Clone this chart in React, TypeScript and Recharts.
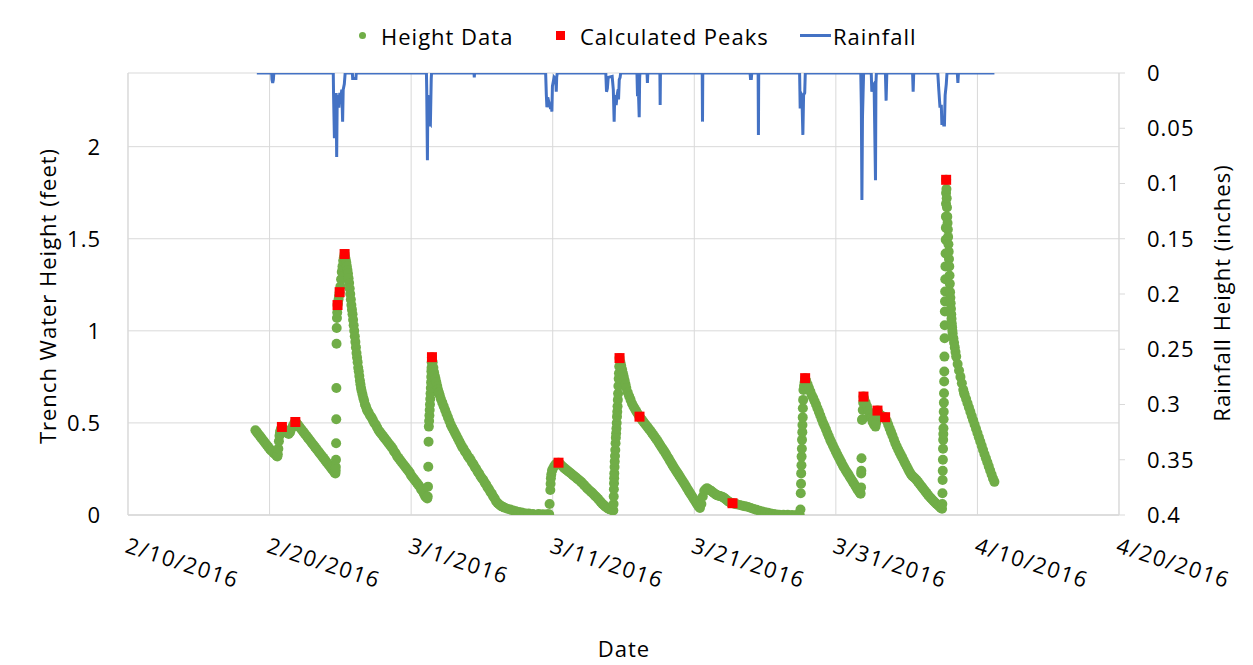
import React from 'react';
import { ComposedChart, Scatter, Line, XAxis, YAxis, CartesianGrid } from 'recharts';

// Day offsets are counted from 2/10/2016 (day 0).
const DATE_TICKS = [0, 10, 20, 30, 40, 50, 60, 70];
const HEIGHT_TICKS = [0, 0.5, 1, 1.5, 2];
const RAIN_TICKS = [0, 0.05, 0.1, 0.15, 0.2, 0.25, 0.3, 0.35, 0.4];

// Trench water height readings [day, feet]
const eventFeb19: [number, number][] = [
  [9.0, 0.46], [9.1, 0.45], [9.2, 0.44], [9.3, 0.43], [9.4, 0.42], [9.5, 0.41], [9.6, 0.4], [9.7, 0.39],
  [9.8, 0.38], [9.9, 0.37], [10.0, 0.36], [10.1, 0.35], [10.2, 0.345], [10.3, 0.335], [10.4, 0.33], [10.5, 0.32],
  [10.55, 0.318], [10.58, 0.33], [10.62, 0.36], [10.66, 0.4], [10.7, 0.43], [10.74, 0.45], [10.78, 0.46], [10.82, 0.47],
  [10.87, 0.478], [10.95, 0.47], [11.05, 0.46], [11.15, 0.45], [11.25, 0.445], [11.35, 0.44], [11.45, 0.45], [11.55, 0.47],
  [11.65, 0.485], [11.75, 0.5], [11.82, 0.505], [11.9, 0.5], [12.0, 0.49], [12.1, 0.48], [12.2, 0.47], [12.3, 0.46],
  [12.4, 0.45], [12.5, 0.44], [12.6, 0.43], [12.7, 0.42], [12.8, 0.41], [12.9, 0.4], [13.0, 0.39], [13.1, 0.38],
  [13.2, 0.37], [13.3, 0.36], [13.4, 0.35], [13.5, 0.34], [13.6, 0.33], [13.7, 0.32], [13.8, 0.31], [13.9, 0.3],
  [14.0, 0.29], [14.1, 0.28], [14.2, 0.27], [14.3, 0.26], [14.4, 0.25], [14.5, 0.24], [14.6, 0.23], [14.65, 0.225],
];

const eventFeb24: [number, number][] = [
  [14.67, 0.24], [14.68, 0.26], [14.69, 0.3], [14.7, 0.39], [14.71, 0.52], [14.72, 0.69], [14.73, 0.93], [14.74, 1.015],
  [14.76, 1.07], [14.78, 1.1], [14.8, 1.14], [14.83, 1.15], [14.87, 1.17], [14.91, 1.19], [14.95, 1.21], [15.0, 1.24],
  [15.05, 1.28], [15.1, 1.32], [15.15, 1.35], [15.2, 1.38], [15.25, 1.4], [15.3, 1.417], [15.34, 1.4], [15.38, 1.385],
  [15.42, 1.37], [15.46, 1.35], [15.5, 1.33], [15.54, 1.31], [15.58, 1.285], [15.62, 1.26], [15.66, 1.23], [15.7, 1.2],
  [15.74, 1.17], [15.78, 1.14], [15.82, 1.115], [15.86, 1.09], [15.9, 1.06], [15.94, 1.03], [15.98, 1.0], [16.02, 0.97],
  [16.06, 0.94], [16.1, 0.91], [16.14, 0.88], [16.18, 0.855], [16.22, 0.83], [16.26, 0.8], [16.3, 0.78], [16.34, 0.755],
  [16.38, 0.73], [16.42, 0.71], [16.46, 0.69], [16.5, 0.675], [16.56, 0.655], [16.62, 0.635], [16.68, 0.62], [16.74, 0.6],
  [16.8, 0.59], [16.86, 0.575], [16.92, 0.565], [17.0, 0.555], [17.1, 0.54], [17.2, 0.53], [17.3, 0.515], [17.4, 0.5],
  [17.5, 0.49], [17.6, 0.475], [17.7, 0.46], [17.8, 0.45], [17.9, 0.44], [18.0, 0.43], [18.1, 0.42], [18.2, 0.41],
  [18.3, 0.4], [18.4, 0.39], [18.5, 0.38], [18.6, 0.37], [18.7, 0.36], [18.8, 0.345], [18.9, 0.335], [19.0, 0.32],
  [19.1, 0.31], [19.2, 0.3], [19.3, 0.29], [19.4, 0.28], [19.5, 0.27], [19.6, 0.26], [19.7, 0.25], [19.8, 0.24],
  [19.9, 0.23], [20.0, 0.215], [20.1, 0.205], [20.2, 0.195], [20.3, 0.185], [20.4, 0.175], [20.5, 0.165], [20.6, 0.155],
  [20.7, 0.14], [20.8, 0.13], [20.9, 0.115], [21.0, 0.1], [21.08, 0.095], [21.14, 0.09],
];

const eventMar1: [number, number][] = [
  [21.17, 0.1], [21.19, 0.154], [21.21, 0.262], [21.23, 0.398], [21.25, 0.48], [21.27, 0.51], [21.29, 0.54], [21.31, 0.57],
  [21.33, 0.6], [21.35, 0.63], [21.37, 0.66], [21.39, 0.69], [21.41, 0.72], [21.42, 0.75], [21.43, 0.78], [21.44, 0.8],
  [21.45, 0.83], [21.47, 0.857], [21.52, 0.83], [21.57, 0.8], [21.62, 0.775], [21.67, 0.755], [21.72, 0.74], [21.78, 0.72],
  [21.84, 0.7], [21.9, 0.68], [21.96, 0.665], [22.02, 0.65], [22.1, 0.63], [22.2, 0.61], [22.3, 0.59], [22.4, 0.57],
  [22.5, 0.55], [22.6, 0.53], [22.7, 0.51], [22.8, 0.49], [22.9, 0.475], [23.0, 0.46], [23.1, 0.445], [23.2, 0.43],
  [23.3, 0.415], [23.4, 0.4], [23.5, 0.385], [23.6, 0.37], [23.7, 0.36], [23.8, 0.345], [23.9, 0.335], [24.0, 0.32],
  [24.1, 0.31], [24.2, 0.3], [24.3, 0.285], [24.4, 0.275], [24.5, 0.26], [24.6, 0.25], [24.7, 0.235], [24.8, 0.225],
  [24.9, 0.21], [25.0, 0.2], [25.1, 0.19], [25.2, 0.175], [25.3, 0.165], [25.4, 0.15], [25.5, 0.14], [25.6, 0.125],
  [25.7, 0.115], [25.8, 0.1], [25.9, 0.09], [26.0, 0.075], [26.1, 0.065], [26.2, 0.058], [26.3, 0.052], [26.4, 0.047],
  [26.5, 0.043], [26.6, 0.04], [26.8, 0.034], [27.0, 0.03], [27.2, 0.025], [27.4, 0.02], [27.6, 0.016], [27.8, 0.013],
  [28.0, 0.01], [28.3, 0.008], [28.6, 0.006], [29.0, 0.005], [29.3, 0.004], [29.6, 0.004], [29.75, 0.004],
];

const eventMar10: [number, number][] = [
  [29.78, 0.06], [29.83, 0.136], [29.85, 0.17], [29.87, 0.2], [29.9, 0.22], [29.95, 0.24], [30.0, 0.25], [30.1, 0.265],
  [30.2, 0.275], [30.3, 0.28], [30.41, 0.284], [30.5, 0.278], [30.6, 0.27], [30.7, 0.263], [30.8, 0.256], [30.9, 0.249],
  [31.0, 0.243], [31.1, 0.237], [31.2, 0.231], [31.3, 0.225], [31.4, 0.219], [31.5, 0.212], [31.6, 0.206], [31.7, 0.199],
  [31.8, 0.193], [31.9, 0.187], [32.0, 0.18], [32.1, 0.172], [32.2, 0.164], [32.3, 0.156], [32.4, 0.148], [32.5, 0.14],
  [32.6, 0.133], [32.7, 0.126], [32.8, 0.119], [32.9, 0.111], [33.0, 0.103], [33.1, 0.096], [33.2, 0.088], [33.3, 0.079],
  [33.4, 0.07], [33.5, 0.061], [33.6, 0.054], [33.7, 0.047], [33.8, 0.041], [33.9, 0.036], [34.0, 0.032], [34.1, 0.029],
  [34.2, 0.027], [34.28, 0.025],
];

const eventMar14: [number, number][] = [
  [34.3, 0.06], [34.31, 0.1], [34.32, 0.14], [34.33, 0.172], [34.34, 0.2], [34.35, 0.226], [34.37, 0.26], [34.38, 0.29],
  [34.4, 0.32], [34.42, 0.353], [34.44, 0.39], [34.46, 0.42], [34.48, 0.444], [34.5, 0.47], [34.52, 0.5], [34.54, 0.534],
  [34.56, 0.56], [34.58, 0.59], [34.6, 0.625], [34.62, 0.66], [34.64, 0.7], [34.66, 0.74], [34.68, 0.77], [34.7, 0.806],
  [34.72, 0.852], [34.78, 0.83], [34.84, 0.81], [34.9, 0.79], [34.96, 0.77], [35.02, 0.75], [35.08, 0.73], [35.14, 0.71],
  [35.2, 0.69], [35.3, 0.665], [35.4, 0.645], [35.5, 0.625], [35.6, 0.605], [35.7, 0.59], [35.8, 0.577], [35.9, 0.564],
  [36.0, 0.551], [36.1, 0.538], [36.2, 0.527], [36.3, 0.517], [36.4, 0.507], [36.5, 0.497], [36.6, 0.487], [36.7, 0.477],
  [36.8, 0.467], [36.9, 0.457], [37.0, 0.447], [37.1, 0.436], [37.2, 0.425], [37.3, 0.414], [37.4, 0.403], [37.5, 0.391],
  [37.6, 0.379], [37.7, 0.367], [37.8, 0.355], [37.9, 0.343], [38.0, 0.331], [38.1, 0.318], [38.2, 0.305], [38.3, 0.292],
  [38.4, 0.279], [38.5, 0.266], [38.6, 0.254], [38.7, 0.242], [38.8, 0.23], [38.9, 0.218], [39.0, 0.206], [39.1, 0.194],
  [39.2, 0.182], [39.3, 0.17], [39.4, 0.157], [39.5, 0.144], [39.6, 0.131], [39.7, 0.119], [39.8, 0.107], [39.9, 0.095],
  [40.0, 0.083], [40.1, 0.071], [40.2, 0.059], [40.3, 0.047], [40.4, 0.038],
];

const eventMar20: [number, number][] = [
  [40.5, 0.06], [40.6, 0.1], [40.7, 0.13], [40.8, 0.14], [40.9, 0.145], [41.0, 0.14], [41.1, 0.135], [41.2, 0.13],
  [41.3, 0.124], [41.4, 0.118], [41.5, 0.112], [41.6, 0.108], [41.7, 0.105], [41.8, 0.103], [41.9, 0.1], [42.0, 0.098],
  [42.1, 0.093], [42.2, 0.087], [42.3, 0.08], [42.4, 0.074], [42.5, 0.069], [42.6, 0.066], [42.7, 0.064], [42.8, 0.062],
  [42.9, 0.06], [43.0, 0.058], [43.2, 0.054], [43.4, 0.05], [43.6, 0.047], [43.8, 0.043], [44.0, 0.038], [44.2, 0.033],
  [44.4, 0.028], [44.6, 0.023], [44.8, 0.019], [45.0, 0.015], [45.2, 0.012], [45.4, 0.008], [45.6, 0.005], [45.8, 0.003],
  [46.0, 0.002], [46.3, 0.001], [46.6, 0.001], [46.9, 0.0], [47.2, 0.0], [47.45, 0.0],
];

const eventMar27: [number, number][] = [
  [47.5, 0.03], [47.52, 0.118], [47.54, 0.17], [47.55, 0.226], [47.57, 0.27], [47.58, 0.317], [47.6, 0.36], [47.61, 0.408],
  [47.63, 0.45], [47.64, 0.489], [47.66, 0.53], [47.67, 0.58], [47.69, 0.625], [47.71, 0.679], [47.75, 0.7], [47.79, 0.72],
  [47.83, 0.743], [47.9, 0.73], [48.0, 0.71], [48.1, 0.69], [48.2, 0.67], [48.3, 0.65], [48.4, 0.635], [48.5, 0.618],
  [48.6, 0.6], [48.7, 0.58], [48.8, 0.56], [48.9, 0.54], [49.0, 0.52], [49.1, 0.5], [49.2, 0.483], [49.3, 0.465],
  [49.4, 0.445], [49.5, 0.427], [49.6, 0.408], [49.7, 0.392], [49.8, 0.376], [49.9, 0.36], [50.0, 0.344], [50.1, 0.328],
  [50.2, 0.313], [50.3, 0.298], [50.4, 0.283], [50.5, 0.268], [50.6, 0.255], [50.7, 0.242], [50.8, 0.23], [50.9, 0.218],
  [51.0, 0.205], [51.1, 0.193], [51.2, 0.18], [51.3, 0.168], [51.4, 0.155], [51.5, 0.142], [51.6, 0.13], [51.7, 0.12],
  [51.75, 0.116],
];

const eventApr1: [number, number][] = [
  [51.78, 0.15], [51.79, 0.226], [51.8, 0.24], [51.81, 0.308], [51.85, 0.516], [51.87, 0.52], [51.9, 0.57], [51.93, 0.61],
  [51.95, 0.643], [52.0, 0.63], [52.1, 0.61], [52.2, 0.59], [52.3, 0.565], [52.4, 0.545], [52.5, 0.525], [52.6, 0.505],
  [52.7, 0.49], [52.8, 0.48], [52.85, 0.5], [52.9, 0.54], [52.94, 0.567], [53.0, 0.555], [53.1, 0.545], [53.2, 0.54],
  [53.3, 0.535], [53.4, 0.532], [53.48, 0.531], [53.6, 0.51], [53.7, 0.49], [53.8, 0.47], [53.9, 0.45], [54.0, 0.43],
  [54.1, 0.41], [54.2, 0.39], [54.3, 0.372], [54.4, 0.356], [54.5, 0.34], [54.6, 0.325], [54.7, 0.31], [54.8, 0.295],
  [54.9, 0.28], [55.0, 0.265], [55.1, 0.25], [55.2, 0.235], [55.3, 0.222], [55.4, 0.212], [55.5, 0.205], [55.6, 0.198],
  [55.7, 0.19], [55.8, 0.18], [55.9, 0.17], [56.0, 0.16], [56.1, 0.15], [56.2, 0.14], [56.3, 0.13], [56.4, 0.12],
  [56.5, 0.11], [56.6, 0.1], [56.7, 0.092], [56.8, 0.084], [56.9, 0.076], [57.0, 0.068], [57.1, 0.061], [57.2, 0.054],
  [57.3, 0.047], [57.4, 0.04], [57.5, 0.034],
];

const eventApr7: [number, number][] = [
  [57.52, 0.06], [57.53, 0.118], [57.54, 0.19], [57.55, 0.24], [57.56, 0.3], [57.57, 0.36], [57.58, 0.408], [57.59, 0.44],
  [57.6, 0.471], [57.61, 0.52], [57.62, 0.561], [57.63, 0.61], [57.64, 0.661], [57.65, 0.725], [57.66, 0.779], [57.67, 0.86],
  [57.68, 0.96], [57.69, 1.03], [57.7, 1.105], [57.71, 1.16], [57.72, 1.214], [57.73, 1.28], [57.74, 1.35], [57.75, 1.42],
  [57.76, 1.495], [57.77, 1.56], [57.775, 1.62], [57.78, 1.69], [57.785, 1.748], [57.79, 1.82], [57.81, 1.77], [57.83, 1.72],
  [57.85, 1.67], [57.87, 1.62], [57.89, 1.585], [57.91, 1.55], [57.93, 1.51], [57.95, 1.47], [57.97, 1.43], [57.99, 1.39],
  [58.01, 1.35], [58.03, 1.3], [58.05, 1.255], [58.07, 1.21], [58.09, 1.18], [58.11, 1.15], [58.13, 1.12], [58.15, 1.09],
  [58.17, 1.065], [58.19, 1.04], [58.21, 1.02], [58.23, 1.0], [58.25, 0.985], [58.3, 0.96], [58.35, 0.935], [58.4, 0.91],
  [58.45, 0.885], [58.5, 0.86], [58.6, 0.82], [58.7, 0.785], [58.8, 0.75], [58.9, 0.715], [59.0, 0.68], [59.06, 0.661],
  [59.1, 0.652], [59.2, 0.63], [59.3, 0.607], [59.4, 0.584], [59.5, 0.56], [59.6, 0.537], [59.7, 0.514], [59.8, 0.491],
  [59.9, 0.468], [60.0, 0.445], [60.1, 0.422], [60.2, 0.399], [60.3, 0.376], [60.4, 0.353], [60.5, 0.33], [60.6, 0.308],
  [60.7, 0.286], [60.8, 0.264], [60.9, 0.242], [61.0, 0.22], [61.1, 0.198], [61.2, 0.18],
];

// Peaks picked out of the height record [day, feet]
const calculatedPeaks: [number, number][] = [
  [10.87, 0.478], [11.82, 0.505], [14.8, 1.14], [14.95, 1.21], [15.3, 1.417], [21.47, 0.857], [30.41, 0.284],
  [34.72, 0.852], [36.13, 0.534], [42.7, 0.064], [47.83, 0.743], [51.95, 0.643], [52.94, 0.567], [53.48, 0.531],
  [57.79, 1.82],
];

// Rain gauge record [day, inches]
const rainfall: [number, number][] = [
  [9.1, 0], [10.15, 0], [10.17, 0.006], [10.22, 0.009], [10.27, 0.006], [10.3, 0],
  [14.5, 0], [14.52, 0.02], [14.58, 0.059], [14.6, 0.02], [14.66, 0.04], [14.7, 0.018], [14.74, 0.076], [14.78, 0.02],
  [14.84, 0.03], [14.9, 0.03], [14.96, 0.018], [15.02, 0.025], [15.1, 0.015], [15.16, 0.044], [15.2, 0.015], [15.28, 0.01], [15.34, 0],
  [15.85, 0], [15.87, 0.005], [16.1, 0.005], [16.12, 0],
  [21.08, 0], [21.1, 0.015], [21.15, 0.079], [21.18, 0.02], [21.24, 0.048], [21.3, 0.045], [21.36, 0.046], [21.42, 0.005], [21.44, 0],
  [24.44, 0], [24.46, 0.004], [24.48, 0],
  [29.5, 0], [29.55, 0.02], [29.59, 0.031], [29.65, 0.022], [29.72, 0.026], [29.8, 0.03], [29.9, 0.028], [29.94, 0.035],
  [29.98, 0.012], [30.1, 0.004], [30.22, 0.006], [30.25, 0.017], [30.28, 0.004], [30.32, 0],
  [33.75, 0], [33.8, 0.017], [33.86, 0.014], [33.92, 0.004], [34.2, 0.003], [34.28, 0.015], [34.34, 0.044], [34.38, 0.02],
  [34.44, 0.025], [34.48, 0.029], [34.55, 0.02], [34.62, 0.015], [34.65, 0.024], [34.7, 0.006], [34.76, 0.004], [34.8, 0],
  [35.95, 0], [35.99, 0.021], [36.05, 0.015], [36.11, 0.04], [36.14, 0.005], [36.16, 0],
  [36.66, 0], [36.69, 0.009], [36.72, 0],
  [37.57, 0], [37.59, 0.029], [37.61, 0],
  [40.56, 0], [40.58, 0.044], [40.6, 0],
  [43.94, 0], [43.97, 0.005], [44.03, 0.005], [44.06, 0],
  [44.51, 0], [44.53, 0.056], [44.55, 0],
  [47.44, 0], [47.48, 0.032], [47.52, 0.018], [47.6, 0.02], [47.67, 0.056], [47.72, 0.02], [47.8, 0.018], [47.84, 0],
  [51.76, 0], [51.8, 0.03], [51.84, 0.115], [51.88, 0.04], [51.92, 0.02], [51.96, 0],
  [52.5, 0], [52.54, 0.017], [52.6, 0.012], [52.7, 0.01], [52.8, 0.097], [52.83, 0.01], [52.86, 0],
  [53.5, 0], [53.55, 0.025], [53.6, 0],
  [55.42, 0], [55.46, 0.017], [55.5, 0],
  [57.2, 0], [57.27, 0.015], [57.35, 0.03], [57.45, 0.03], [57.49, 0.047], [57.55, 0.04], [57.62, 0.047], [57.67, 0.047],
  [57.72, 0.02], [57.8, 0.01], [57.85, 0],
  [58.58, 0], [58.62, 0.009], [58.66, 0],
  [61.2, 0],
];

const heightSeries = [
  ...eventFeb19, ...eventFeb24, ...eventMar1, ...eventMar10, ...eventMar14,
  ...eventMar20, ...eventMar27, ...eventApr1, ...eventApr7,
].map(([t, h]) => ({ t, h }));
const peakSeries = calculatedPeaks.map(([t, h]) => ({ t, h }));
const rainSeries = rainfall.map(([t, r]) => ({ t, r }));

const FONT = '"Open Sans", "Liberation Sans", sans-serif';
const FONT_SIZE = 22;
const SPACING = 1;
const GREEN = '#70AD47';
const RED = '#FF0000';
const BLUE = '#4472C4';
const GRID = '#D9D9D9';
const TEXT = '#000000';
const DAY0 = Date.UTC(2016, 1, 10);

const formatDate = (d: number) => {
  const dt = new Date(DAY0 + Math.round(d * 86400000));
  return `${dt.getUTCMonth() + 1}/${dt.getUTCDate()}/${dt.getUTCFullYear()}`;
};

const DateTick = (props: any) => {
  const { x, payload } = props;
  return (
    <g transform={`translate(${x - 4},545)`}>
      <text
        transform="rotate(18)"
        textAnchor="start"
        fontFamily={FONT}
        fontSize={FONT_SIZE}
        letterSpacing={1.5}
        fill={TEXT}
      >
        {formatDate(payload.value)}
      </text>
    </g>
  );
};

const LeftTick = (props: any) => (
  <text
    x={93}
    y={props.y}
    dy="0.36em"
    textAnchor="end"
    fontFamily={FONT}
    fontSize={FONT_SIZE}
    letterSpacing={SPACING}
    fill={TEXT}
  >
    {props.payload.value}
  </text>
);

const RightTick = (props: any) => (
  <text
    x={1139}
    y={props.y}
    dy="0.36em"
    textAnchor="start"
    fontFamily={FONT}
    fontSize={FONT_SIZE}
    letterSpacing={SPACING}
    fill={TEXT}
  >
    {props.payload.value}
  </text>
);

const HeightDot = (props: any) => <circle cx={props.cx} cy={props.cy} r={5} fill={GREEN} />;
const PeakMark = (props: any) => (
  <rect x={props.cx - 5} y={props.cy - 5} width={10} height={10} fill={RED} />
);

const AxisTitle = ({ x, y, angle, children }: { x: number; y: number; angle: number; children: string }) => (
  <text
    x={x}
    y={y}
    transform={angle ? `rotate(${angle} ${x} ${y})` : undefined}
    textAnchor="middle"
    dominantBaseline="central"
    fontFamily={FONT}
    fontSize={FONT_SIZE}
    letterSpacing={SPACING}
    fill={TEXT}
  >
    {children}
  </text>
);

const legendText: React.CSSProperties = {
  position: 'absolute',
  top: 15,
  fontFamily: FONT,
  fontSize: FONT_SIZE,
  letterSpacing: SPACING,
  color: TEXT,
  lineHeight: '28px',
  whiteSpace: 'nowrap',
};

export default function App() {
  return (
    <div
      style={{
        position: 'relative',
        width: 1243,
        height: 662,
        margin: '-2px 0 0 -1px',
        border: `1px solid ${GRID}`,
        background: '#fff',
      }}
    >
      <ComposedChart width={1243} height={657} margin={{ top: 66, right: 0, bottom: 0, left: 0 }}>
        <CartesianGrid yAxisId="left" stroke={GRID} strokeWidth={1} />
        <XAxis
          type="number"
          dataKey="t"
          domain={[0, 70]}
          ticks={DATE_TICKS}
          allowDataOverflow
          height={149}
          tickLine={false}
          axisLine={{ stroke: GRID, strokeWidth: 1.5 }}
          tick={<DateTick />}
          label={{ content: () => <AxisTitle x={616} y={641} angle={0}>Date</AxisTitle> }}
        />
        <YAxis
          yAxisId="left"
          type="number"
          domain={[0, 2.4]}
          ticks={HEIGHT_TICKS}
          allowDataOverflow
          width={120}
          tickLine={false}
          axisLine={{ stroke: GRID, strokeWidth: 1 }}
          tick={<LeftTick />}
          label={{
            content: () => <AxisTitle x={39} y={289} angle={-90}>Trench Water Height (feet)</AxisTitle>,
          }}
        />
        <YAxis
          yAxisId="right"
          orientation="right"
          type="number"
          reversed
          domain={[0, 0.4]}
          ticks={RAIN_TICKS}
          allowDataOverflow
          width={132}
          tickSize={6}
          tickLine={{ stroke: GRID }}
          axisLine={{ stroke: GRID, strokeWidth: 1 }}
          tick={<RightTick />}
          label={{
            content: () => <AxisTitle x={1213} y={286} angle={-90}>Rainfall Height (inches)</AxisTitle>,
          }}
        />
        <Scatter
          name="Height Data"
          data={heightSeries}
          dataKey="h"
          yAxisId="left"
          fill={GREEN}
          shape={<HeightDot />}
          isAnimationActive={false}
        />
        <Scatter
          name="Calculated Peaks"
          data={peakSeries}
          dataKey="h"
          yAxisId="left"
          fill={RED}
          shape={<PeakMark />}
          isAnimationActive={false}
        />
        <Line
          name="Rainfall"
          data={rainSeries}
          dataKey="r"
          yAxisId="right"
          type="linear"
          stroke={BLUE}
          strokeWidth={3}
          dot={false}
          activeDot={false}
          isAnimationActive={false}
        />
      </ComposedChart>

      {/* legend row */}
      <span style={{ position: 'absolute', left: 351, top: 25, width: 7, height: 7, borderRadius: '50%', background: GREEN }} />
      <span style={{ ...legendText, left: 373 }}>Height Data</span>
      <span style={{ position: 'absolute', left: 548, top: 24, width: 9, height: 9, background: RED }} />
      <span style={{ ...legendText, left: 572 }}>Calculated Peaks</span>
      <span style={{ position: 'absolute', left: 792, top: 27, width: 31, height: 3, background: BLUE }} />
      <span style={{ ...legendText, left: 825 }}>Rainfall</span>
    </div>
  );
}
